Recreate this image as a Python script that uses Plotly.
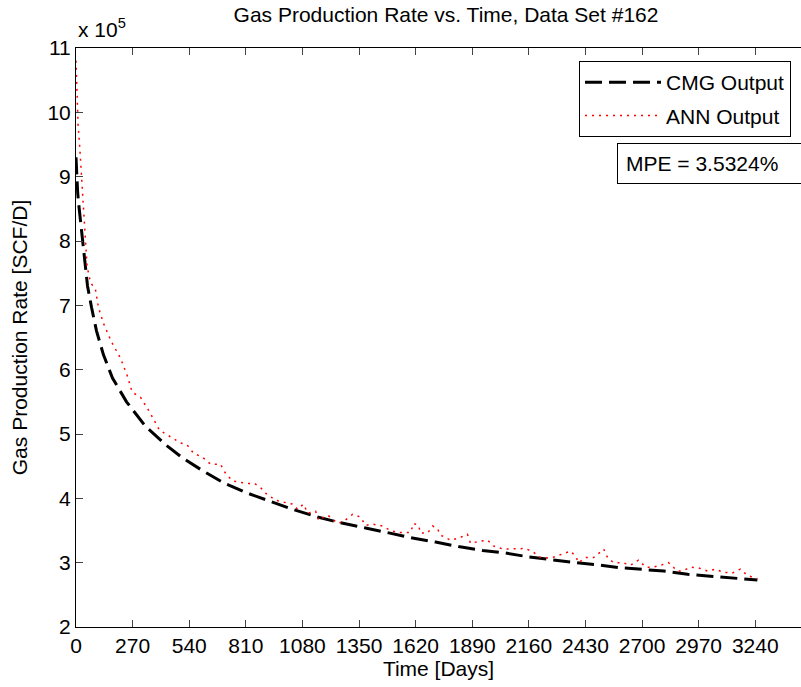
import plotly.graph_objects as go

# ---- data ----
cmg_days = [0, 4, 8, 12, 20, 31, 43, 55, 74, 98, 131, 174, 241, 331, 436, 508, 594,
            704, 818, 913, 1033, 1152, 1262, 1381, 1491, 1596, 1715, 1824, 1939,
            2049, 2159, 2278, 2383, 2502, 2597, 2683, 2803, 2917, 3026, 3136, 3250]
cmg_rate = [930000, 895000, 875000, 860000, 835000, 810000, 770000, 730000, 697000,
            660000, 623000, 587000, 550000, 512000, 481000, 463000, 445000, 424000,
            408000, 397000, 383000, 371000, 362000, 354000, 346000, 339000, 332000,
            325000, 319000, 315000, 309000, 304000, 300000, 296000, 292000, 290000,
            287000, 282000, 279000, 277000, 273000]

ann_days = [0, 5, 10, 17, 25, 30, 36, 45, 53, 69, 93, 107, 131, 168, 212, 244, 268,
            308, 355, 398, 450, 499, 530, 561, 603, 642, 689, 713, 747, 818, 852, 880,
            904, 952, 990, 1033, 1057, 1085, 1105, 1143, 1157, 1200, 1248, 1276, 1319,
            1357, 1381, 1414, 1462, 1500, 1533, 1596, 1610, 1634, 1643, 1677, 1701,
            1724, 1738, 1786, 1824, 1867, 1882, 1920, 1963, 1991, 2039, 2106, 2144,
            2183, 2216, 2264, 2311, 2359, 2383, 2397, 2430, 2469, 2517, 2535, 2564,
            2607, 2645, 2683, 2717, 2750, 2788, 2826, 2869, 2893, 2931, 2969, 3012,
            3050, 3088, 3131, 3169, 3203, 3250]
ann_rate = [1080000, 1030000, 980000, 950000, 910000, 887000, 840000, 800000, 760000,
            736000, 724000, 697000, 672000, 644000, 618000, 591000, 565000, 557000,
            532000, 506000, 495000, 486000, 483000, 470000, 464000, 453000, 453000,
            439000, 427000, 423000, 423000, 417000, 408000, 397000, 394000, 391000,
            383000, 391000, 377000, 380000, 366000, 374000, 361000, 364000, 375000,
            371000, 358000, 360000, 357000, 350000, 347000, 347000, 361000, 358000,
            346000, 346000, 357000, 353000, 343000, 335000, 338000, 344000, 330000,
            333000, 335000, 326000, 321000, 321000, 322000, 316000, 308000, 307000,
            312000, 318000, 310000, 300000, 308000, 308000, 321000, 308000, 300000,
            300000, 296000, 304000, 293000, 293000, 296000, 300000, 287000, 287000,
            293000, 292000, 287000, 290000, 285000, 284000, 290000, 280000, 275000]

x_ticks = [0, 270, 540, 810, 1080, 1350, 1620, 1890, 2160, 2430, 2700, 2970, 3240]
y_ticks = [200000, 300000, 400000, 500000, 600000, 700000, 800000, 900000, 1000000, 1100000]
y_tick_text = ["2", "3", "4", "5", "6", "7", "8", "9", "10", "11"]

FONT = "Liberation Sans, Arial, Helvetica, sans-serif"
FS = 21

fig = go.Figure()
fig.add_trace(go.Scatter(x=cmg_days, y=cmg_rate, mode="lines", name="CMG Output",
                         legendgroup="a",
                         line=dict(color="black", width=3, dash="17px,7px")))
fig.add_trace(go.Scatter(x=ann_days, y=ann_rate, mode="lines", name="ANN Output",
                         legendgroup="b",
                         line=dict(color="red", width=1.5, dash="2px,5px")))

fig.update_layout(
    width=801, height=687,
    margin=dict(l=76, r=0, t=48, b=60),
    paper_bgcolor="white", plot_bgcolor="white",
    font=dict(family=FONT, size=FS, color="black"),
    title=dict(text="Gas Production Rate vs. Time, Data Set #162",
               x=446 / 801, xanchor="center", y=1 - 15 / 687, yanchor="middle",
               font=dict(size=FS)),
    showlegend=True,
    legend=dict(x=(579 - 76) / 725, y=1 - 13 / 579, xanchor="left", yanchor="top",
                bgcolor="white", bordercolor="black", borderwidth=1,
                font=dict(size=FS), itemwidth=76, traceorder="grouped",
                tracegroupgap=3),
)
fig.update_xaxes(range=[0, 3458], tickvals=x_ticks, ticks="inside", ticklen=7,
                 showline=True, linecolor="black", linewidth=1, mirror="ticks",
                 showgrid=False, zeroline=False, tickfont=dict(size=FS),
                 title=dict(text="Time [Days]", standoff=5, font=dict(size=FS)))
fig.update_yaxes(range=[200000, 1100000], tickvals=y_ticks, ticktext=y_tick_text,
                 ticks="inside", ticklen=7, showline=True, linecolor="black",
                 linewidth=1, mirror=False, showgrid=False, zeroline=False,
                 tickfont=dict(size=FS),
                 title=dict(text="Gas Production Rate [SCF/D]", standoff=14,
                            font=dict(size=FS)))

fig.add_annotation(xref="paper", yref="paper", x=0, y=1, xanchor="left", yanchor="bottom",
                   xshift=0, yshift=5,
                   text="x 10<sup>5</sup>", showarrow=False, font=dict(size=FS))
fig.add_annotation(xref="paper", yref="paper", x=(617 - 76) / 725, y=1 - (143 - 48) / 579,
                   xanchor="left", yanchor="top", text="MPE = 3.5324%", showarrow=False,
                   align="left", width=190, borderpad=8, bordercolor="black",
                   borderwidth=1, bgcolor="white", font=dict(size=FS))

fig.write_html("out.html")
